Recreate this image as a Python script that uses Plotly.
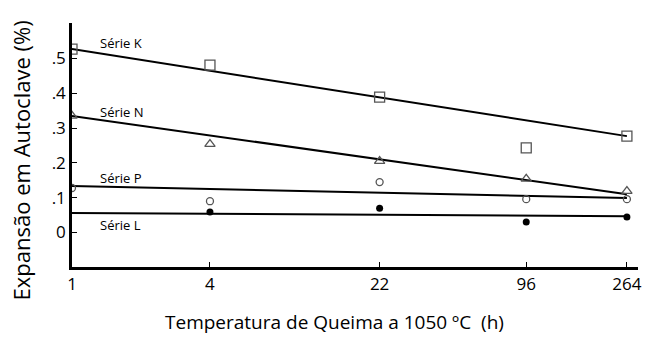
import plotly.graph_objects as go

hours = [1, 4, 22, 96, 264]
serie_k = [0.527, 0.481, 0.389, 0.243, 0.277]
serie_n = [0.335, 0.254, 0.205, 0.154, 0.119]
serie_p = [0.128, 0.090, 0.145, 0.096, 0.096]
serie_l_x = [4, 22, 96, 264]
serie_l = [0.059, 0.070, 0.030, 0.045]

fit_x = [1, 264]
fit_k = [0.527, 0.277]
fit_n = [0.335, 0.110]
fit_p = [0.134, 0.099]
fit_l = [0.056, 0.047]

y_ticks = [0, 0.1, 0.2, 0.3, 0.4, 0.5]
y_ticktext = ["0", ".1", ".2", ".3", ".4", ".5"]
labels = ["Série K", "Série N", "Série P", "Série L"]
label_y = [0.545, 0.346, 0.157, 0.022]
x_title = "Temperatura de Queima a 1050 ºC  (h)"
y_title = "Expansão em Autoclave (%)"

FONT = "Open Sans"
fig = go.Figure()

for fy in [fit_k, fit_n, fit_p, fit_l]:
    fig.add_trace(go.Scatter(x=fit_x, y=fy, mode="lines",
                             line=dict(color="black", width=2), showlegend=False,
                             hoverinfo="skip"))

fig.add_trace(go.Scatter(x=hours, y=serie_k, mode="markers", showlegend=False,
                         marker=dict(symbol="square-open", size=10, color="#555",
                                     line=dict(width=1.3))))
fig.add_trace(go.Scatter(x=hours, y=serie_n, mode="markers", showlegend=False,
                         marker=dict(symbol="triangle-up-open", size=9, color="#555",
                                     line=dict(width=1.3))))
fig.add_trace(go.Scatter(x=hours, y=serie_p, mode="markers", showlegend=False,
                         marker=dict(symbol="circle-open", size=7, color="#555",
                                     line=dict(width=1.3))))
fig.add_trace(go.Scatter(x=serie_l_x, y=serie_l, mode="markers", showlegend=False,
                         marker=dict(symbol="circle", size=7, color="black")))

for t, yv in zip(labels, label_y):
    fig.add_annotation(x=0.113, y=yv, xref="x", yref="y", text=t, showarrow=False,
                       xanchor="left", yanchor="middle",
                       font=dict(family=FONT, size=13, color="black"))

fig.add_annotation(x=0.463, y=-0.225, xref="paper", yref="paper", text=x_title,
                   showarrow=False, xanchor="center", yanchor="middle",
                   font=dict(family=FONT, size=19, color="black"))
fig.add_annotation(x=-0.091, y=0.439, xref="paper", yref="paper", text=y_title,
                   showarrow=False, xanchor="center", yanchor="middle", textangle=-90,
                   font=dict(family=FONT, size=22, color="black"))

fig.update_xaxes(type="log", range=[0, 2.47], tickvals=hours,
                 ticktext=[str(h) for h in hours],
                 showline=True, linecolor="black", linewidth=2.5, mirror=False,
                 ticks="inside", ticklen=5, tickwidth=1, tickcolor="black",
                 showgrid=False, zeroline=False,
                 tickfont=dict(family=FONT, size=17, color="black"))
fig.update_yaxes(range=[-0.099, 0.602], tickvals=y_ticks, ticktext=y_ticktext,
                 showline=True, linecolor="black", linewidth=2.5,
                 ticks="inside", ticklen=5, tickwidth=1, tickcolor="black",
                 showgrid=False, zeroline=False,
                 tickfont=dict(family=FONT, size=17, color="black"))

fig.update_layout(width=649, height=337, plot_bgcolor="white", paper_bgcolor="white",
                  margin=dict(l=72, r=7, t=23, b=70), showlegend=False)

fig.write_html("out.html")
